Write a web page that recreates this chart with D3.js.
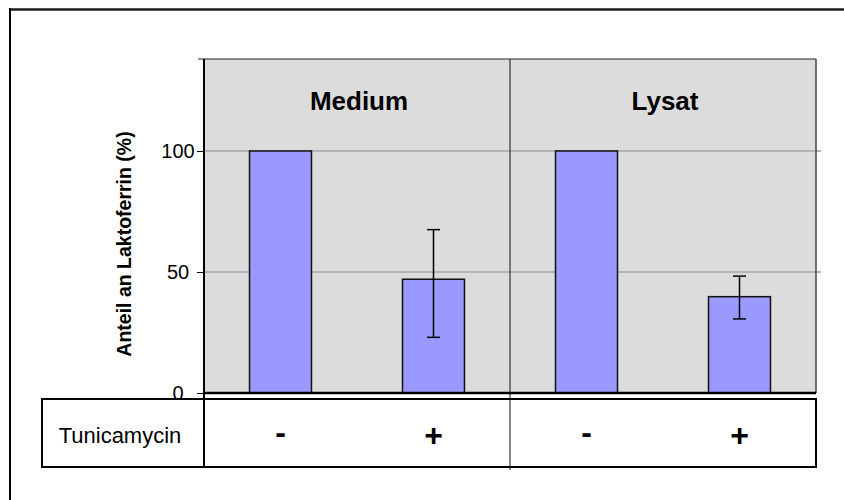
<!DOCTYPE html>
<html>
<head>
<meta charset="utf-8">
<script src="https://cdn.jsdelivr.net/npm/d3@7"></script>
<style>
  html, body { margin: 0; padding: 0; background: #fff; }
  svg { display: block; font-family: "Liberation Sans", Arial, sans-serif; }
</style>
</head>
<body>
<svg id="chart" width="844" height="500"></svg>
<script>
// Lactoferrin share per condition, with and without tunicamycin
const groups = ["Medium", "Lysat"];
const categories = ["Medium -", "Medium +", "Lysat -", "Lysat +"];
const treatment = ["-", "+", "-", "+"];
const values = [100, 47, 100, 39.8];
const errPlus = [0, 20.5, 0, 8.5];
const errMinus = [0, 24, 0, 9.2];
const yTicks = [0, 50, 100];
const yMax = 138;

const svg = d3.select("#chart");

const plot = { left: 204, right: 816, top: 59, bottom: 393 };
const table = { left: 42, right: 816, top: 399, bottom: 467 };

const x = d3.scaleBand()
  .domain(categories)
  .range([plot.left, plot.right])
  .paddingInner(0.595)
  .paddingOuter(0.595 / 2);

const y = d3.scaleLinear().domain([0, yMax]).range([plot.bottom, plot.top]);

const groupScale = d3.scaleBand().domain(groups).range([plot.left, plot.right]);

// Outer frame
svg.append("line").attr("x1", 9).attr("x2", 844).attr("y1", 9.5).attr("y2", 9.5)
  .attr("stroke", "#1a1a1a").attr("stroke-width", 2.5);
svg.append("line").attr("x1", 10).attr("x2", 10).attr("y1", 8).attr("y2", 500)
  .attr("stroke", "#000").attr("stroke-width", 2);

// Plot background
svg.append("rect")
  .attr("x", plot.left).attr("y", plot.top)
  .attr("width", plot.right - plot.left).attr("height", plot.bottom - plot.top)
  .attr("fill", "#dcdcdc");

// Gridlines
svg.append("g").selectAll("line")
  .data(yTicks.filter(d => d > 0))
  .join("line")
  .attr("x1", plot.left).attr("x2", plot.right + 5)
  .attr("y1", d => y(d)).attr("y2", d => y(d))
  .attr("stroke", "#b4b4b4").attr("stroke-width", 2);

// Plot border (top and right)
svg.append("line").attr("x1", 198).attr("x2", plot.right).attr("y1", plot.top).attr("y2", plot.top)
  .attr("stroke", "#222").attr("stroke-width", 1);
svg.append("line").attr("x1", plot.right).attr("x2", plot.right).attr("y1", plot.top).attr("y2", plot.bottom)
  .attr("stroke", "#444").attr("stroke-width", 1.5);

// Group divider
svg.append("line")
  .attr("x1", groupScale("Lysat")).attr("x2", groupScale("Lysat"))
  .attr("y1", plot.top).attr("y2", table.bottom + 3)
  .attr("stroke", "#111").attr("stroke-width", 1);

// Bars
svg.append("g").selectAll("rect")
  .data(categories)
  .join("rect")
  .attr("x", d => x(d))
  .attr("y", (d, i) => y(values[i]))
  .attr("width", x.bandwidth())
  .attr("height", (d, i) => y(0) - y(values[i]))
  .attr("fill", "#9999ff")
  .attr("stroke", "#111")
  .attr("stroke-width", 1.5);

// Error bars
const eb = svg.append("g").attr("stroke", "#000").attr("stroke-width", 1.5);
categories.forEach((c, i) => {
  if (!errPlus[i] && !errMinus[i]) return;
  const cx = x(c) + x.bandwidth() / 2;
  const hi = y(values[i] + errPlus[i]);
  const lo = y(values[i] - errMinus[i]);
  eb.append("line").attr("x1", cx).attr("x2", cx).attr("y1", hi).attr("y2", lo);
  eb.append("line").attr("x1", cx - 6.5).attr("x2", cx + 6.5).attr("y1", hi).attr("y2", hi);
  eb.append("line").attr("x1", cx - 6.5).attr("x2", cx + 6.5).attr("y1", lo).attr("y2", lo);
});

// Y axis
const yAxis = svg.append("g")
  .attr("transform", `translate(${plot.left},0)`)
  .call(d3.axisLeft(y).tickValues(yTicks).tickSize(7).tickPadding(0).tickFormat(d3.format("d")));
yAxis.select(".domain").remove();
yAxis.selectAll(".tick line").attr("stroke", "#000").attr("stroke-width", 1);
yAxis.selectAll(".tick text")
  .attr("x", -26)
  .attr("text-anchor", "middle")
  .attr("font-size", 20)
  .attr("font-family", "'Liberation Sans', Arial, sans-serif")
  .attr("fill", "#000");

// Y axis line, running down through the table
svg.append("line").attr("x1", plot.left).attr("x2", plot.left)
  .attr("y1", plot.top).attr("y2", table.bottom)
  .attr("stroke", "#000").attr("stroke-width", 2);

// Baseline
svg.append("line").attr("x1", plot.left).attr("x2", plot.right)
  .attr("y1", y(0)).attr("y2", y(0))
  .attr("stroke", "#000").attr("stroke-width", 2.5);

// Y axis title
svg.append("text")
  .attr("transform", `translate(131,244) rotate(-90)`)
  .attr("text-anchor", "middle")
  .attr("font-size", 19.5)
  .attr("font-weight", "bold")
  .text("Anteil an Laktoferrin (%)");

// Group titles
svg.append("g").selectAll("text")
  .data(groups)
  .join("text")
  .attr("x", d => groupScale(d) + groupScale.bandwidth() / 2 + 2)
  .attr("y", 110)
  .attr("text-anchor", "middle")
  .attr("font-size", 26)
  .attr("font-weight", "bold")
  .text(d => d);

// Treatment table
svg.append("rect")
  .attr("x", table.left).attr("y", table.top)
  .attr("width", table.right - table.left).attr("height", table.bottom - table.top)
  .attr("fill", "none").attr("stroke", "#000").attr("stroke-width", 2);

svg.append("text")
  .attr("x", 120).attr("y", 443)
  .attr("text-anchor", "middle")
  .attr("font-size", 22)
  .text("Tunicamycin");

svg.append("g").selectAll("text")
  .data(categories)
  .join("text")
  .attr("x", d => x(d) + x.bandwidth() / 2)
  .attr("y", (d, i) => treatment[i] === "+" ? 446 : 443)
  .attr("text-anchor", "middle")
  .attr("font-size", 32)
  .attr("font-weight", "bold")
  .text((d, i) => treatment[i]);
</script>
</body>
</html>
